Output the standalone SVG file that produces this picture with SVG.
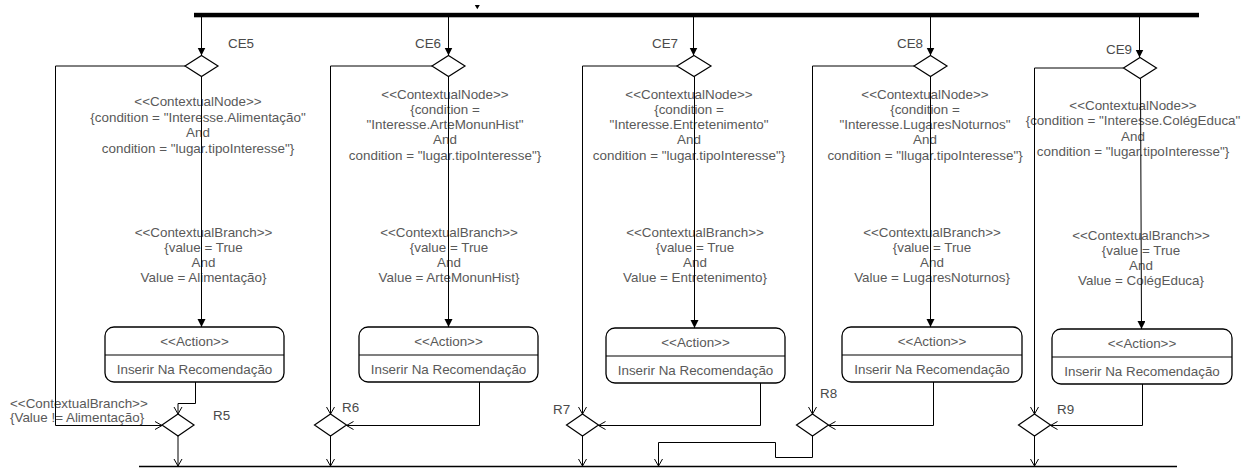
<svg xmlns="http://www.w3.org/2000/svg" width="1249" height="468" viewBox="0 0 1249 468">
  <style>
    .ln { fill: none; stroke: #000; stroke-width: 1; }
    .dec { fill: #fff; stroke: #000; stroke-width: 1.2; }
    .act { fill: #fff; stroke: #000; stroke-width: 1.3; }
    .div { stroke: #000; stroke-width: 1.2; }
    text { font-family: "Liberation Sans", Arial, sans-serif; font-size: 13.4px; fill: #595959; }
    .c { text-anchor: middle; }
    .lbl { fill: #4a4a4a; }
  </style>
  <defs>
    <marker id="fill" markerUnits="userSpaceOnUse" markerWidth="10" markerHeight="10" refX="8" refY="4" orient="auto">
      <path d="M0,0 L8,4 L0,8 z" fill="#000"/>
    </marker>
    <marker id="open" markerUnits="userSpaceOnUse" markerWidth="10" markerHeight="10" refX="7.5" refY="4.5" orient="auto">
      <path d="M0.5,0.5 L7.5,4.5 L0.5,8.5" fill="none" stroke="#000" stroke-width="1"/>
    </marker>
  </defs>

  <!-- fork bar -->
  <g id="fork">
    <rect x="194" y="12.8" width="1005" height="4.5" fill="#000"/>
    <path d="M474.8,5 L479.8,5 L477.3,9.2 z" fill="#000"/>
  </g>

  <!-- join line -->
  <g id="join">
    <line x1="139" y1="466.5" x2="1177" y2="466.5" stroke="#000" stroke-width="1.5"/>
  </g>

  <!-- decision nodes -->
  <g id="CE5"><polygon class="dec" points="201.5,55.5 218,66 201.5,76.5 185,66"/><text class="lbl" x="228" y="48">CE5</text></g>
  <g id="CE6"><polygon class="dec" points="448.5,55.5 465,66 448.5,76.5 432,66"/><text class="lbl" x="415" y="48">CE6</text></g>
  <g id="CE7"><polygon class="dec" points="694,55.5 711,66 694,76.5 677,66"/><text class="lbl" x="652" y="48">CE7</text></g>
  <g id="CE8"><polygon class="dec" points="930.5,55.5 947,66 930.5,76.5 914,66"/><text class="lbl" x="897" y="48">CE8</text></g>
  <g id="CE9"><polygon class="dec" points="1140,57.5 1156.5,68 1140,78.5 1123.5,68"/><text class="lbl" x="1106" y="54">CE9</text></g>

  <!-- merge nodes -->
  <g id="R5"><polygon class="dec" points="178,414 194,425 178,436 162,425"/><text class="lbl" x="213" y="420">R5</text></g>
  <g id="R6"><polygon class="dec" points="330.5,414 346.5,425 330.5,436 314.5,425"/><text class="lbl" x="342" y="412">R6</text></g>
  <g id="R7"><polygon class="dec" points="582.5,414 598.5,425 582.5,436 566.5,425"/><text class="lbl" x="553" y="414">R7</text></g>
  <g id="R8"><polygon class="dec" points="812.5,414 828.5,425 812.5,436 796.5,425"/><text class="lbl" x="820" y="398">R8</text></g>
  <g id="R9"><polygon class="dec" points="1034.5,414 1050.5,425 1034.5,436 1018.5,425"/><text class="lbl" x="1057" y="414">R9</text></g>

  <!-- action nodes -->
  <g id="A5">
    <rect class="act" x="105" y="327" width="179" height="55" rx="9"/>
    <line class="div" x1="105" y1="355" x2="284" y2="355"/>
    <text class="c" x="194.5" y="345.5">&lt;&lt;Action&gt;&gt;</text>
    <text class="c" x="194.5" y="373.5">Inserir Na Recomendação</text>
  </g>
  <g id="A6">
    <rect class="act" x="359" y="327" width="179" height="55" rx="9"/>
    <line class="div" x1="359" y1="355" x2="538" y2="355"/>
    <text class="c" x="448.5" y="345.5">&lt;&lt;Action&gt;&gt;</text>
    <text class="c" x="448.5" y="373.5">Inserir Na Recomendação</text>
  </g>
  <g id="A7">
    <rect class="act" x="606" y="328" width="179" height="55" rx="9"/>
    <line class="div" x1="606" y1="356" x2="785" y2="356"/>
    <text class="c" x="695.5" y="346.5">&lt;&lt;Action&gt;&gt;</text>
    <text class="c" x="695.5" y="374.5">Inserir Na Recomendação</text>
  </g>
  <g id="A8">
    <rect class="act" x="842" y="327" width="180" height="55" rx="9"/>
    <line class="div" x1="842" y1="355" x2="1022" y2="355"/>
    <text class="c" x="932" y="345.5">&lt;&lt;Action&gt;&gt;</text>
    <text class="c" x="932" y="373.5">Inserir Na Recomendação</text>
  </g>
  <g id="A9">
    <rect class="act" x="1052" y="329" width="180" height="55" rx="9"/>
    <line class="div" x1="1052" y1="357" x2="1232" y2="357"/>
    <text class="c" x="1142" y="347.5">&lt;&lt;Action&gt;&gt;</text>
    <text class="c" x="1142" y="375.5">Inserir Na Recomendação</text>
  </g>

  <!-- connectors and their labels -->
  <g id="connectors">
    <!-- guard labels -->
    <g class="labels">
      <text class="c" x="198" y="106">&lt;&lt;ContextualNode&gt;&gt;</text>
      <text class="c" x="198" y="121.5">{condition = "Interesse.Alimentação"</text>
      <text class="c" x="198" y="137">And</text>
      <text class="c" x="198" y="152.5">condition = "lugar.tipoInteresse"}</text>

      <text class="c" x="445" y="99">&lt;&lt;ContextualNode&gt;&gt;</text>
      <text class="c" x="445" y="114">{condition =</text>
      <text class="c" x="445" y="129">"Interesse.ArteMonunHist"</text>
      <text class="c" x="445" y="144">And</text>
      <text class="c" x="445" y="160">condition = "lugar.tipoInteresse"}</text>

      <text class="c" x="689" y="99">&lt;&lt;ContextualNode&gt;&gt;</text>
      <text class="c" x="689" y="114">{condition =</text>
      <text class="c" x="689" y="129">"Interesse.Entretenimento"</text>
      <text class="c" x="689" y="144">And</text>
      <text class="c" x="689" y="160">condition = "lugar.tipoInteresse"}</text>

      <text class="c" x="925" y="99">&lt;&lt;ContextualNode&gt;&gt;</text>
      <text class="c" x="925" y="114">{condition =</text>
      <text class="c" x="925" y="129">"Interesse.LugaresNoturnos"</text>
      <text class="c" x="925" y="144">And</text>
      <text class="c" x="925" y="160">condition = "llugar.tipoInteresse"}</text>

      <text class="c" x="1133" y="109.5">&lt;&lt;ContextualNode&gt;&gt;</text>
      <text class="c" x="1133" y="125">{condition = "Interesse.ColégEduca"</text>
      <text class="c" x="1133" y="140.5">And</text>
      <text class="c" x="1133" y="156">condition = "lugar.tipoInteresse"}</text>

      <text class="c" x="203.5" y="237">&lt;&lt;ContextualBranch&gt;&gt;</text>
      <text class="c" x="203.5" y="252">{value = True</text>
      <text class="c" x="203.5" y="267">And</text>
      <text class="c" x="203.5" y="282">Value = Alimentação}</text>

      <text class="c" x="449" y="237">&lt;&lt;ContextualBranch&gt;&gt;</text>
      <text class="c" x="449" y="252">{value = True</text>
      <text class="c" x="449" y="267">And</text>
      <text class="c" x="449" y="282">Value = ArteMonunHist}</text>

      <text class="c" x="695" y="237">&lt;&lt;ContextualBranch&gt;&gt;</text>
      <text class="c" x="695" y="252">{value = True</text>
      <text class="c" x="695" y="267">And</text>
      <text class="c" x="695" y="282">Value = Entretenimento}</text>

      <text class="c" x="932" y="237">&lt;&lt;ContextualBranch&gt;&gt;</text>
      <text class="c" x="932" y="252">{value = True</text>
      <text class="c" x="932" y="267">And</text>
      <text class="c" x="932" y="282">Value = LugaresNoturnos}</text>

      <text class="c" x="1141" y="240">&lt;&lt;ContextualBranch&gt;&gt;</text>
      <text class="c" x="1141" y="255">{value = True</text>
      <text class="c" x="1141" y="270">And</text>
      <text class="c" x="1141" y="285">Value = ColégEduca}</text>

      <text x="10" y="407.5">&lt;&lt;ContextualBranch&gt;&gt;</text>
      <text x="10" y="422">{Value != Alimentação}</text>
    </g>

    <!-- fork to decisions -->
    <path class="ln" d="M201.5,17 V55.5" marker-end="url(#fill)"/>
    <path class="ln" d="M448.5,17 V55.5" marker-end="url(#fill)"/>
    <path class="ln" d="M693.5,17 V55.5" marker-end="url(#fill)"/>
    <path class="ln" d="M930.5,17 V55.5" marker-end="url(#fill)"/>
    <path class="ln" d="M1139.5,17 V57.5" marker-end="url(#fill)"/>

    <!-- decisions to actions -->
    <path class="ln" d="M201.5,76.5 V327" marker-end="url(#fill)"/>
    <path class="ln" d="M448.5,76.5 V327" marker-end="url(#fill)"/>
    <path class="ln" d="M694.5,76.5 V328" marker-end="url(#fill)"/>
    <path class="ln" d="M930.5,76.5 V327" marker-end="url(#fill)"/>
    <path class="ln" d="M1140.5,78.5 L1141.5,329" marker-end="url(#fill)"/>

    <!-- else branches -->
    <path class="ln" d="M185,66 H55.5 V425.5 H162" marker-end="url(#open)"/>
    <path class="ln" d="M432,66 H330.5 V414" marker-end="url(#open)"/>
    <path class="ln" d="M677,66 H582.5 V414" marker-end="url(#open)"/>
    <path class="ln" d="M914,66 H812.5 V414" marker-end="url(#open)"/>
    <path class="ln" d="M1123.5,68 H1034.5 V414" marker-end="url(#open)"/>

    <!-- actions to merges -->
    <path class="ln" d="M195.5,382 V403.5 H178 V414" marker-end="url(#open)"/>
    <path class="ln" d="M479.5,382 V425.5 H346.5" marker-end="url(#open)"/>
    <path class="ln" d="M760.5,383 V425.5 H598.5" marker-end="url(#open)"/>
    <path class="ln" d="M933.5,382 V425.5 H828.5" marker-end="url(#open)"/>
    <path class="ln" d="M1142.5,384 V425.5 H1050.5" marker-end="url(#open)"/>

    <!-- merges to join -->
    <path class="ln" d="M178,436 V466" marker-end="url(#open)"/>
    <path class="ln" d="M330.5,436 V466" marker-end="url(#open)"/>
    <path class="ln" d="M582.5,436 V466" marker-end="url(#open)"/>
    <path class="ln" d="M812.5,436 V457.5 H775.5 V442.5 H658.5 V466" marker-end="url(#open)"/>
    <path class="ln" d="M1034.5,436 V466" marker-end="url(#open)"/>
  </g>
</svg>
